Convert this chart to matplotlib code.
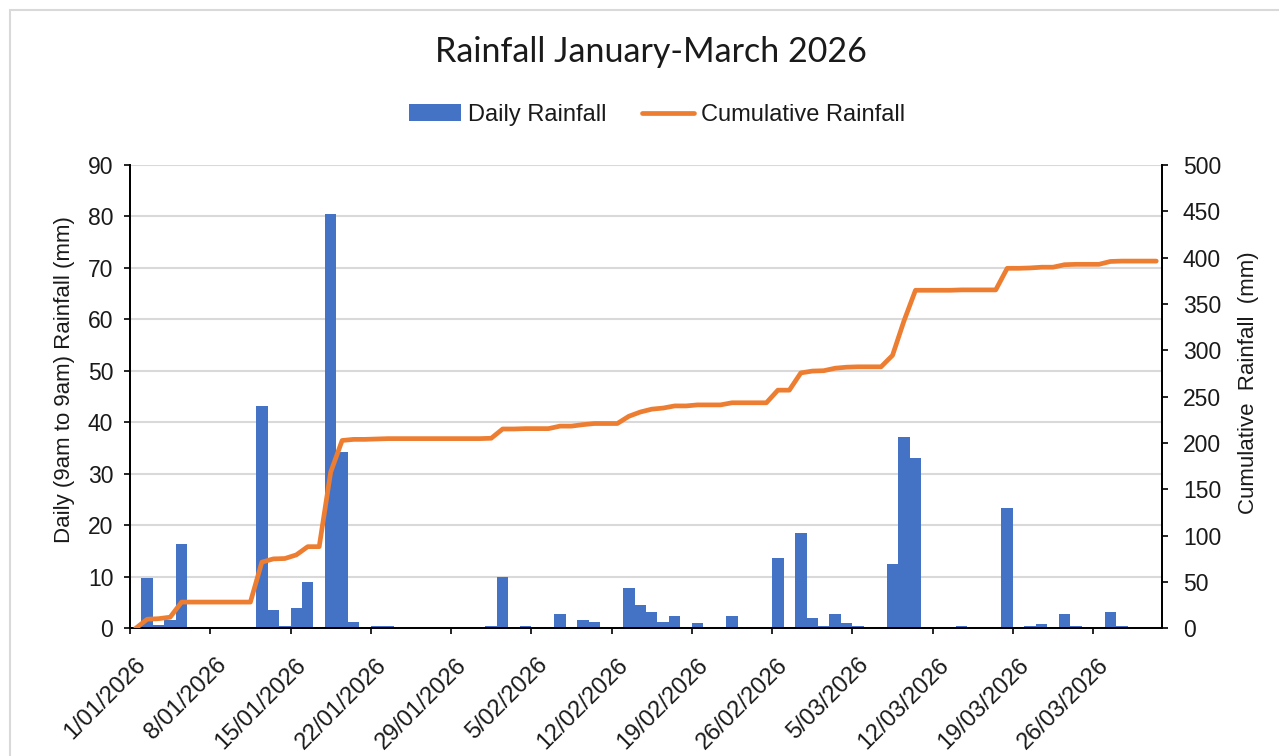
import numpy as np
import pandas as pd
import matplotlib
matplotlib.use("Agg")
import matplotlib.pyplot as plt
import matplotlib.dates as mdates
from matplotlib.transforms import ScaledTranslation
from matplotlib.patches import Rectangle

# ---------------- data ----------------
start_date = "2026-01-01"
daily_rain = [
    0.0, 9.8, 0.6, 1.6, 16.3, 0.0, 0.0, 0.0, 0.0, 0.0,      # 1-10 Jan
    0.0, 43.1, 3.5, 0.4, 3.9, 8.9, 0.0, 80.4, 34.2, 1.2,    # 11-20 Jan
    0.0, 0.4, 0.4, 0.0, 0.0, 0.0, 0.0, 0.0, 0.0, 0.0,       # 21-30 Jan
    0.0, 0.4, 10.0, 0.0, 0.4, 0.0, 0.0, 2.7, 0.0, 1.6,      # 31 Jan - 9 Feb
    1.2, 0.0, 0.0, 7.8, 4.6, 3.1, 1.2, 2.3, 0.0, 1.1,       # 10-19 Feb
    0.0, 0.0, 2.3, 0.0, 0.0, 0.0, 13.6, 0.0, 18.6, 2.0,     # 20 Feb - 1 Mar
    0.4, 2.7, 1.1, 0.4, 0.0, 0.0, 12.4, 37.2, 33.0, 0.0,    # 2-11 Mar
    0.0, 0.0, 0.4, 0.0, 0.0, 0.0, 23.3, 0.0, 0.4, 0.8,      # 12-21 Mar
    0.0, 2.7, 0.4, 0.0, 0.0, 3.1, 0.4, 0.0, 0.0, 0.0,       # 22-31 Mar
]
series_names = ["Daily Rainfall", "Cumulative Rainfall"]
title_text = "Rainfall January-March 2026"
left_label = "Daily (9am to 9am) Rainfall (mm)"
right_label = "Cumulative  Rainfall  (mm)"

dates = pd.date_range(start_date, periods=len(daily_rain), freq="D")
cumulative_rain = np.cumsum(daily_rain)

# ---------------- style ----------------
BLUE = "#4472C4"
ORANGE = "#ED7D31"
GRID = "#D9D9D9"
TXT = "#1a1a1a"
SANS = ["Liberation Sans", "DejaVu Sans"]
TITLE_FONT = ["Lato", "DejaVu Sans"]
FS_TICK = 16.5
FS_LEG = 17
FS_LAB = 16

W, H = 1279, 756
fig = plt.figure(figsize=(W / 100, H / 100), dpi=100)
fig.patch.set_facecolor("white")

# chart-area border (only left & top visible in reference)
fig.patches.append(Rectangle((10 / W, -0.05), 1.2, 1 - 10 / H + 0.05,
                             transform=fig.transFigure, fill=False,
                             edgecolor=GRID, lw=1.5, zorder=0))

ax = fig.add_axes([130 / W, 127.7 / H, (1162 - 130) / W, (628.3 - 165) / H])
ax2 = ax.twinx()

x_centres = dates + pd.Timedelta(hours=12)
bars = ax.bar(x_centres, daily_rain, width=1.0, color=BLUE, edgecolor="none",
              label=series_names[0], zorder=2)
line, = ax2.plot(x_centres, cumulative_rain, color=ORANGE, lw=3.4,
                 solid_joinstyle="round", solid_capstyle="round",
                 label=series_names[1], zorder=3)

ax.set_xlim(dates[0], dates[-1] + pd.Timedelta(days=1))
ax.set_ylim(0, 90)
ax2.set_ylim(0, 500)
ax.set_yticks(np.arange(0, 91, 10))
ax2.set_yticks(np.arange(0, 501, 50))

ax.set_xticks(dates[::7])
ax.xaxis.set_major_formatter(
    matplotlib.ticker.FuncFormatter(
        lambda v, p: (lambda d: f"{d.day}/{d.month:02d}/{d.year}")(mdates.num2date(v))))

ax.grid(axis="y", color=GRID, lw=1.5, zorder=0)
ax.set_axisbelow(True)

for a in (ax, ax2):
    a.spines["top"].set_visible(False)
    for s in ("left", "right", "bottom"):
        a.spines[s].set_color("#000000")
        a.spines[s].set_linewidth(1.3)

ax.tick_params(axis="y", direction="out", length=4, width=1.2, pad=8,
               labelsize=FS_TICK, labelcolor=TXT, color="black")
ax2.tick_params(axis="y", direction="out", length=4, width=1.2, pad=11,
                labelsize=FS_TICK, labelcolor=TXT, color="black")
ax.tick_params(axis="x", direction="out", length=4, width=1.2, pad=14.5,
               labelsize=FS_LEG, labelcolor=TXT, color="black")

offset = ScaledTranslation(3.5 / 72, 0, fig.dpi_scale_trans)
for lab in ax.get_xticklabels():
    lab.set_rotation(45)
    lab.set_ha("right")
    lab.set_va("top")
    lab.set_rotation_mode("anchor")
    lab.set_transform(lab.get_transform() + offset)
    lab.set_fontfamily(SANS)
for lab in ax.get_yticklabels() + ax2.get_yticklabels():
    lab.set_fontfamily(SANS)

ax.set_ylabel(left_label, fontsize=FS_LAB, family=SANS, color=TXT)
ax.yaxis.set_label_coords(75 / W, 1 - 380 / H, transform=fig.transFigure)
ax2.set_ylabel(right_label, fontsize=FS_LAB, family=SANS, color=TXT)
ax2.yaxis.set_label_coords(1238 / W, 1 - 383 / H, transform=fig.transFigure)

fig.text(651 / W, 1 - 52 / H, title_text, ha="center", va="center",
         fontsize=24.5, family=TITLE_FONT, color=TXT)

leg = fig.legend([bars, line], series_names, loc="center",
                 bbox_to_anchor=(657 / W, 1 - 115 / H), ncol=2, frameon=False,
                 prop={"family": SANS, "size": FS_LEG}, handlelength=2.2,
                 handletextpad=0.3, columnspacing=1.5, labelcolor=TXT)

fig.savefig("out.png", dpi=100, facecolor="white")
